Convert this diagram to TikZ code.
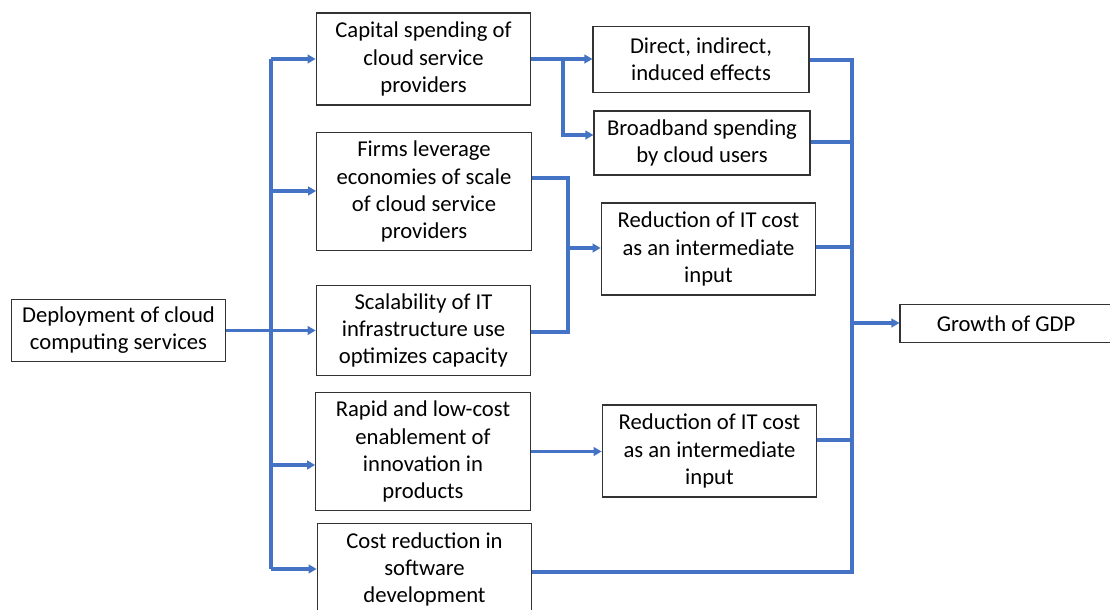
\documentclass[tikz,border=0pt]{standalone}
\usepackage{fontspec}
\setmainfont{Carlito}
\usetikzlibrary{arrows.meta}
\usetikzlibrary{positioning}
\usepackage{xcolor}
\definecolor{linkblue}{HTML}{4472C4}

\begin{document}
\begin{tikzpicture}[x=0.75pt, y=-0.75pt,
  box/.style={draw=black!80, line width=0.8pt, align=center, inner sep=0pt,
    minimum width=161pt, font=\fontsize{17}{20.3}\selectfont},
  link/.style={draw=linkblue, line width=2.3pt},
  arr/.style={link, -{Triangle[length=6pt, width=6.5pt]}}]
  \useasboundingbox (0,0) rectangle (1110,610);

  % left column
  \node[box, minimum width=160pt, minimum height=47pt] (deploy) at (118.5,330.5) {Deployment of cloud\\computing services};
  \node[box, minimum height=69pt] (capital) at (423.5,59) {Capital spending of\\cloud service\\providers};
  \node[box, minimum height=89pt] (firms) at (424,191.5) {Firms leverage\\economies of scale\\of cloud service\\providers};
  \node[box, minimum height=68pt] (scal) at (423.5,330.5) {Scalability of IT\\infrastructure use\\optimizes capacity};
  \node[box, minimum height=89pt] (rapid) at (423,451.5) {Rapid and low-cost\\enablement of\\innovation in\\products};
  \node[box, minimum height=69pt] (costred) at (424.5,569.5) {Cost reduction in\\software\\development};

  % middle column
  \node[box, minimum width=162pt, minimum height=49pt] (direct) at (701,59.5) {Direct, indirect,\\induced effects};
  \node[box, minimum width=162pt, minimum height=48pt] (broadband) at (702,143) {Broadband spending\\by cloud users};
  \node[box, minimum height=69pt] (red1) at (708.5,249) {Reduction of IT cost\\as an intermediate\\input};
  \node[box, minimum height=69pt] (red2) at (709.5,451) {Reduction of IT cost\\as an intermediate\\input};

  % result
  \node[box, minimum width=159pt, minimum height=28pt] (gdp) at (1006,323.5) {Growth of GDP};

  % left bus
  \coordinate (lt) at (271,59);
  \coordinate (lf) at (271,191);
  \coordinate (lr) at (271,465);
  \coordinate (lb) at (271,569);
  \draw[link] (lt) -- (lb);
  \draw[arr] (deploy.east) -- (scal.west);
  \draw[arr] (lt) -- (capital.west |- lt);
  \draw[arr] (lf) -- (firms.west |- lf);
  \draw[arr] (lr) -- (rapid.west |- lr);
  \draw[arr] (lb) -- (costred.west |- lb);

  % capital spending branches
  \coordinate (cb) at (563,59);
  \draw[arr] (capital.east |- cb) -- (direct.west |- cb);
  \draw[arr] (cb) |- (broadband.west |- 0,135);

  % IT cost merge
  \coordinate (mt) at (568,178);
  \coordinate (mb) at (568,332);
  \coordinate (mm) at (568,248);
  \draw[link] (firms.east |- mt) -- (mt) -- (mb) -- (scal.east |- mb);
  \draw[arr] (mm) -- (red1.west |- mm);
  \draw[arr] (rapid.east) -- (red2.west |- rapid.east);

  % right bus
  \coordinate (rt) at (852,60);
  \coordinate (rb) at (852,572);
  \coordinate (rg) at (852,323);
  \draw[link] (direct.east |- rt) -- (rt) -- (rb) -- (costred.east |- rb);
  \draw[link] (broadband.east |- 0,142) -- (rt |- 0,142);
  \draw[link] (red1.east |- 0,247) -- (rt |- 0,247);
  \draw[link] (red2.east |- 0,440) -- (rt |- 0,440);
  \draw[arr] (rg) -- (gdp.west |- rg);
\end{tikzpicture}
\end{document}
